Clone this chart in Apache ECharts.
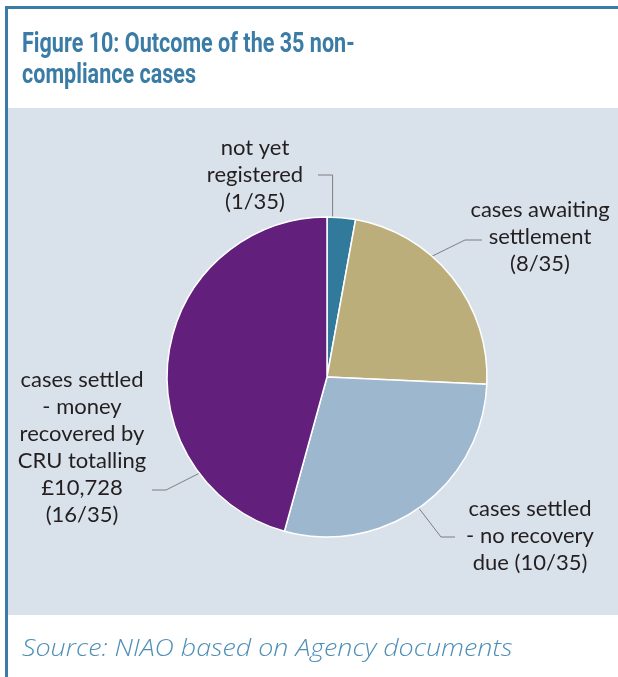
<!DOCTYPE html>
<html>
<head>
<meta charset="utf-8">
<title>Figure 10</title>
<style>
html, body { margin: 0; padding: 0; background: #fff; }
#chart { width: 618px; height: 677px; }
</style>
</head>
<body>
<div id="chart"></div>
<script src="https://cdn.jsdelivr.net/npm/echarts@6/dist/echarts.min.js"></script>
<script>
// data
var outcomeNames = [
  'not yet\nregistered\n(1/35)',
  'cases awaiting\nsettlement\n(8/35)',
  'cases settled\n- no recovery\ndue (10/35)',
  'cases settled\n- money\nrecovered by\nCRU totalling\n£10,728\n(16/35)'
];
var outcomeCounts = [1, 8, 10, 16];
var sliceColors = ['#327a9c', '#bcae7a', '#9db8ce', '#621f7c'];

// layout of the labels and their leader lines
var pieCenter = [327, 377], pieRadius = 160;
var labelSpots = [[255, 175], [540, 237], [530, 536], [82, 447]];
var leaderAngle = [2, 41, 145, 233];   // degrees clockwise from top
var leaderElbow = [[null, 175], [465, 240], [441, 537], [166, 490]];
var leaderEnd = [318, 482, 455, 152];

var chart = echarts.init(document.getElementById('chart'));

var pieData = outcomeNames.map(function (n, i) {
  return { name: n, value: outcomeCounts[i], itemStyle: { color: sliceColors[i] } };
});

var option = {
  animation: false,
  backgroundColor: '#ffffff',
  graphic: [
    { type: 'rect', shape: { x: 8, y: 108, width: 610, height: 507 }, style: { fill: '#d9e1ea' }, z: -10 },
    { type: 'rect', shape: { x: 5, y: 6, width: 613, height: 3 }, style: { fill: '#3a7ca5' } },
    { type: 'rect', shape: { x: 5, y: 6, width: 3, height: 671 }, style: { fill: '#3a7ca5' } },
    {
      type: 'text', x: 22, y: 29, scaleX: 0.77,
      style: {
        text: 'Figure 10: Outcome of the 35 non-\ncompliance cases',
        font: 'bold 28px Roboto, sans-serif',
        lineHeight: 31,
        fill: '#3a7ca5'
      }
    },
    {
      type: 'text', x: 22, y: 637, scaleX: 1.12,
      style: {
        text: 'Source: NIAO based on Agency documents',
        font: 'italic 300 24px "Open Sans", sans-serif',
        fill: '#4d8fb8'
      }
    }
  ],
  series: [{
    type: 'pie',
    center: pieCenter,
    radius: pieRadius,
    startAngle: 90,
    clockwise: true,
    avoidLabelOverlap: false,
    data: pieData,
    itemStyle: { borderColor: '#ffffff', borderWidth: 1.5 },
    label: {
      show: true,
      position: 'outside',
      formatter: '{b}',
      fontFamily: 'Lato, sans-serif',
      fontSize: 22,
      lineHeight: 27,
      color: '#231f20',
      align: 'center'
    },
    labelLine: { show: true, lineStyle: { color: '#7f7f7f', width: 1 } },
    labelLayout: function (params) {
      var i = params.dataIndex;
      var a = leaderAngle[i] * Math.PI / 180;
      var sx = pieCenter[0] + pieRadius * Math.sin(a);
      var sy = pieCenter[1] - pieRadius * Math.cos(a);
      var ex = leaderElbow[i][0] == null ? sx : leaderElbow[i][0];
      var ey = leaderElbow[i][1];
      return {
        x: labelSpots[i][0],
        y: labelSpots[i][1],
        align: 'center',
        verticalAlign: 'middle',
        labelLinePoints: [[sx, sy], [ex, ey], [leaderEnd[i], ey]]
      };
    }
  }]
};

chart.setOption(option);
</script>
</body>
</html>
